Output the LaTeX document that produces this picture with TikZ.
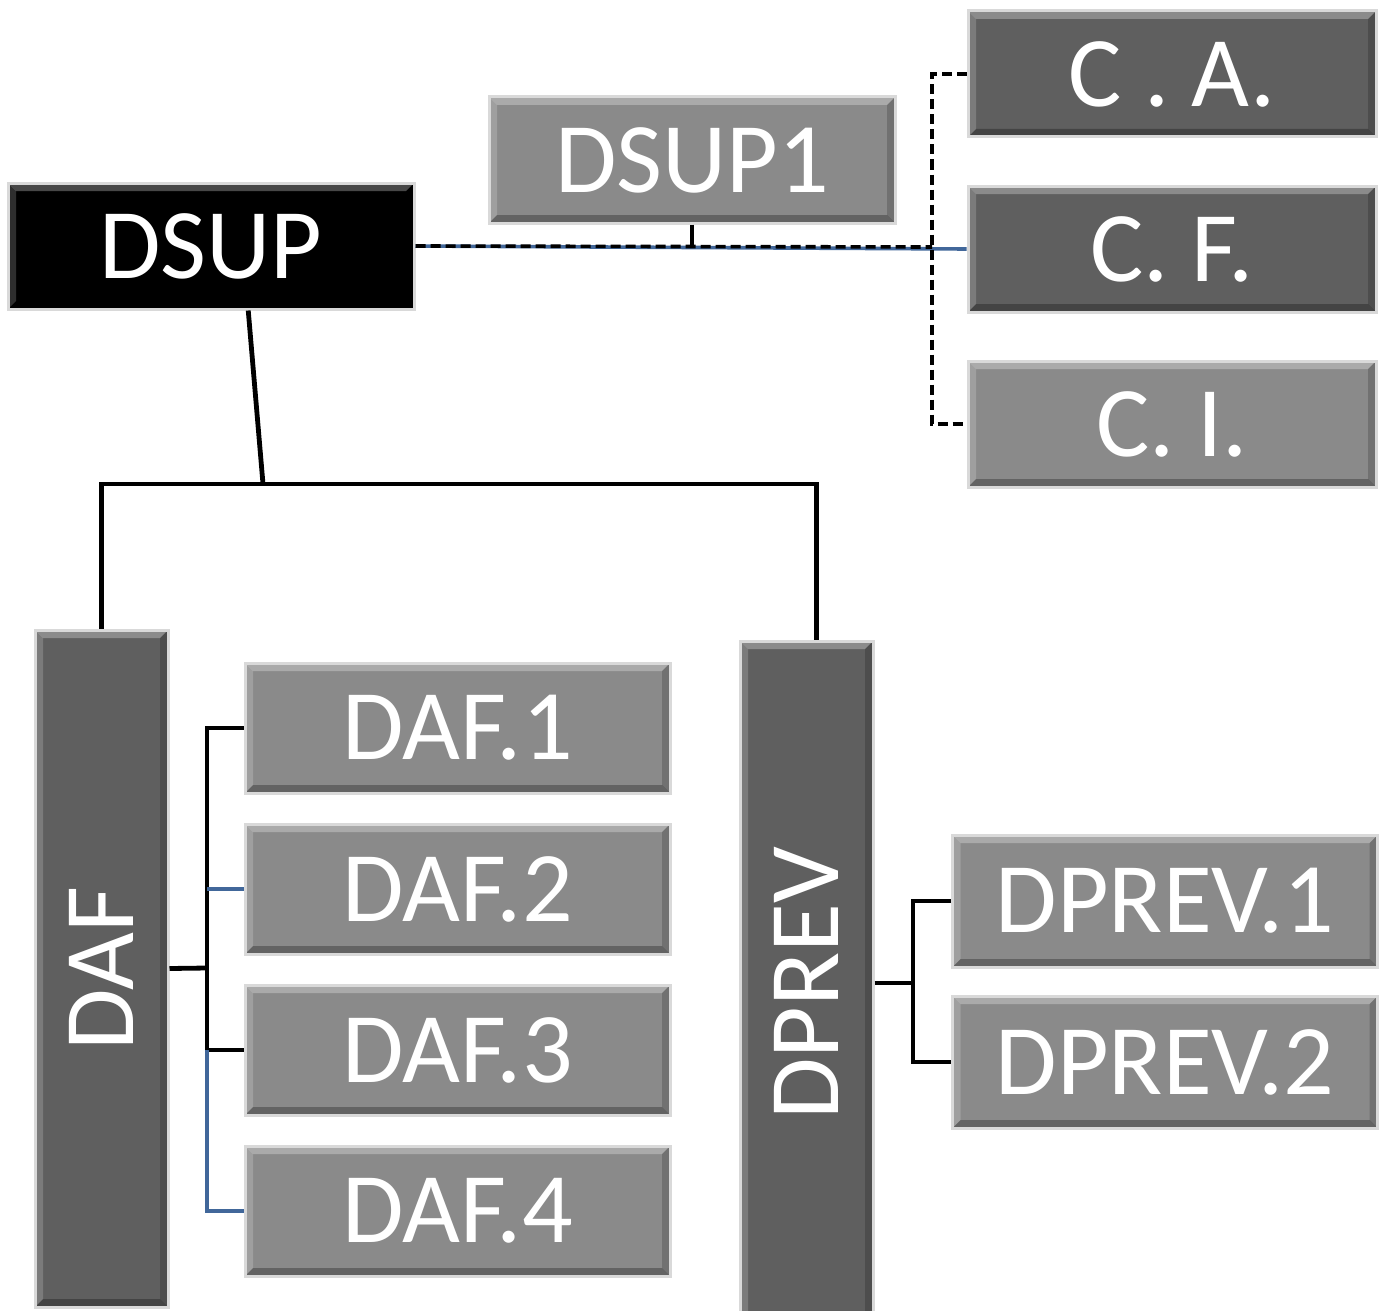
\documentclass[tikz,border=0pt]{standalone}
\usepackage{fontspec}
\setmainfont{Carlito}
\usetikzlibrary{positioning}
\definecolor{darkfill}{HTML}{5F5F5F}
\definecolor{midfill}{HTML}{8A8A8A}
\definecolor{linkblue}{HTML}{41679A}

\tikzset{
  bevel/.style={path picture={
    \path (path picture bounding box.north west) coordinate (tl) ++(4pt,-4pt) coordinate (itl)
          (path picture bounding box.north east) coordinate (tr) ++(-4pt,-4pt) coordinate (itr)
          (path picture bounding box.south east) coordinate (br) ++(-4pt,4pt) coordinate (ibr)
          (path picture bounding box.south west) coordinate (bl) ++(4pt,4pt) coordinate (ibl);
    \fill[white,opacity=.28] (tl) -- (tr) -- (itr) -- (itl) -- cycle;
    \fill[white,opacity=.18] (tl) -- (itl) -- (ibl) -- (bl) -- cycle;
    \fill[black,opacity=.28] (bl) -- (ibl) -- (ibr) -- (br) -- cycle;
    \fill[black,opacity=.18] (tr) -- (br) -- (ibr) -- (itr) -- cycle;
  }},
}

\begin{document}
\begin{tikzpicture}[
  x=0.5pt, y=-0.5pt,
  node distance = 15pt,
  box/.style     = {draw=black!15, line width=1.5pt, bevel, inner sep=0pt, text=white,
                    font=\fontsize{50pt}{52pt}\selectfont, minimum height=65pt},
  darkbox/.style = {fill=darkfill},
  midbox/.style  = {fill=midfill},
  topbox/.style  = {box, minimum width=203pt, minimum height=63pt},
  subbox/.style  = {box, midbox, minimum width=212.5pt},
  colbox/.style  = {box, darkbox, minimum width=66.5pt},
  link/.style    = {line width=2.4pt, black},
  bluelink/.style = {line width=1.8pt, linkblue},
  dashlink/.style = {line width=1.8pt, black, dash pattern=on 5pt off 2.5pt},
]
\clip (0,0) rectangle (1381,1311);

% top row
\node[topbox, fill=black] (dsup) at (211,246) {DSUP};
\node[topbox, midbox] (dsupone) at (692,160) {DSUP1};
\node[topbox, darkbox, minimum width=204pt] (ca) at (1172,74) {C . A.};
\node[topbox, darkbox, minimum width=204pt, below=23pt of ca] (cf) {C. F.};
\node[topbox, midbox, minimum width=204pt, below=23pt of cf] (ci) {C. I.};

% columns
\node[colbox, minimum height=338.5pt] (daf) at (101.5,968.5) {\rotatebox{90}{DAF}};
\node[colbox, minimum height=342pt] (dprev) at (806.5,983) {\rotatebox{90}{DPREV}};

\node[subbox] (dafone) at (457.5,728) {DAF.1};
\node[subbox, below=14pt of dafone] (daftwo) {DAF.2};
\node[subbox, below=14pt of daftwo] (dafthree) {DAF.3};
\node[subbox, below=14pt of dafthree] (daffour) {DAF.4};

\node[subbox, minimum height=66pt] (dprevone) at (1165,901) {DPREV.1};
\node[subbox, minimum height=66pt, below=13pt of dprevone] (dprevtwo) {DPREV.2};

\coordinate (hub) at (263,484);
\coordinate (cbus) at (932,247);
\coordinate (dafbus) at (207,968);
\coordinate (prevbus) at (913,983);
\coordinate (prevtop) at ([xshift=5pt]dprev.north);

% links
\draw[link] (dsup.-60) -- (hub);
\draw[link] (daf.north) -- (daf.north |- hub) -- (prevtop |- hub) -- (prevtop);

\draw[bluelink] (dsup.east) -- (cf.west);
\draw[dashlink] (dsup.east) -- (cbus);
\draw[link] (dsupone.south) -- (dsupone.south |- dsup.east);
\draw[dashlink] (ca.west) -| (cbus) |- (ci.west);

\draw[link] (daf.east) -- (dafbus);
\draw[link] (dafone.west) -| (dafbus) |- (dafthree.west);
\draw[bluelink] (daftwo.west) -- (daftwo.west -| dafbus);
\draw[bluelink] (dafthree.west -| dafbus) |- (daffour.west);

\draw[link] (dprev.east) -- (prevbus);
\draw[link] (dprevone.west) -| (prevbus) |- (dprevtwo.west);

\end{tikzpicture}
\end{document}
